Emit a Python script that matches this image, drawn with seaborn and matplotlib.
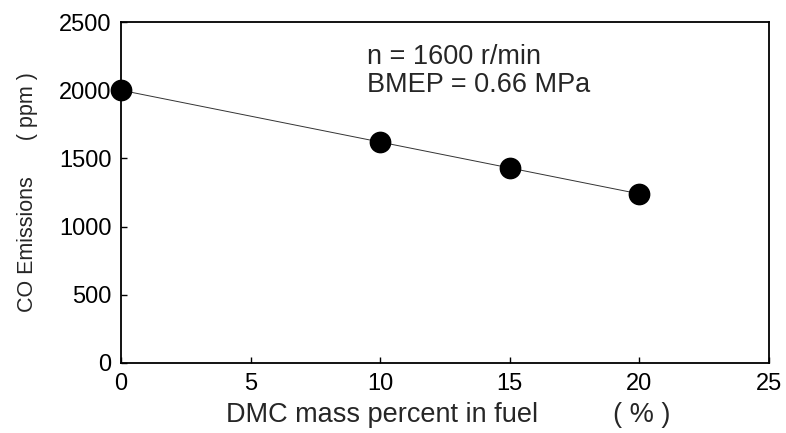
import matplotlib
matplotlib.use("Agg")
import matplotlib.pyplot as plt
import seaborn as sns
import pandas as pd

dmc_percent = [0, 10, 15, 20]
co_ppm = [2000, 1620, 1430, 1240]
x_ticks = [0, 5, 10, 15, 20, 25]
y_ticks = [0, 500, 1000, 1500, 2000, 2500]

sns.set_theme(style="ticks")
plt.rcParams['font.family'] = ['Liberation Sans', 'DejaVu Sans']

df = pd.DataFrame({"x": dmc_percent, "y": co_ppm})

fig = plt.figure(figsize=(7.86, 4.33), dpi=100)
ax = fig.add_axes([0.154, 0.162, 0.824, 0.787])

sns.lineplot(data=df, x="x", y="y", ax=ax, color="#333333", linewidth=0.7)
sns.scatterplot(data=df, x="x", y="y", ax=ax, color="black", s=210,
                edgecolor="black", clip_on=False, zorder=5)

ax.set_xlim(0, 25)
ax.set_ylim(0, 2500)
ax.set_xticks(x_ticks)
ax.set_yticks(y_ticks)
ax.tick_params(direction="in", length=4, width=1, labelsize=17, colors="black", pad=7)
for s in ax.spines.values():
    s.set_color("black")
    s.set_linewidth(1.3)

ax.set_xlabel("DMC mass percent in fuel          ( % )", fontsize=19.5, labelpad=6)
ax.xaxis.set_label_coords(0.505, -0.115)
ax.set_ylabel("CO Emissions      ( ppm )", fontsize=15.5, labelpad=15)

ax.text(0.379, 0.855, "n = 1600 r/min\nBMEP = 0.66 MPa", transform=ax.transAxes,
        fontsize=19.5, va="center", ha="left", linespacing=1.1)

fig.savefig("out.png", dpi=100)
